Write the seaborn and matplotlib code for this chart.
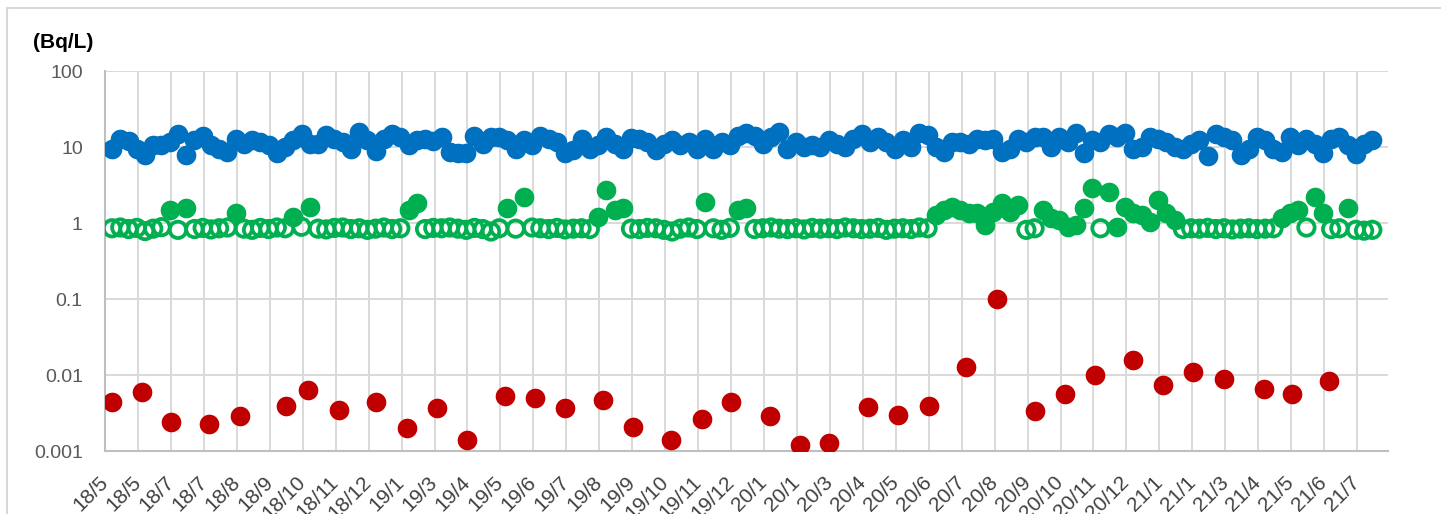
import numpy as np
import pandas as pd
import seaborn as sns
import matplotlib.pyplot as plt
from matplotlib.patches import Rectangle

# weekly samples (x = week number from first sample)
blue_vals = [
    9.6, 13.0, 12.0, 9.6, 7.9, 10.6, 10.8, 11.8, 15.1, 8.0,
    12.4, 14.0, 10.6, 9.6, 8.7, 13.0, 11.2, 12.4, 11.8, 10.6,
    8.3, 10.1, 12.4, 15.0, 11.2, 11.2, 14.4, 13.0, 11.8, 9.6,
    15.9, 12.4, 9.0, 13.0, 15.1, 13.7, 10.6, 12.4, 13.0, 12.0,
    13.7, 8.7, 8.5, 8.5, 14.2, 11.2, 13.5, 13.5, 12.4, 9.6,
    12.4, 10.6, 14.2, 13.0, 11.8, 8.3, 9.1, 13.0, 9.6, 10.6,
    13.5, 11.2, 9.6, 13.2, 13.0, 11.8, 9.1, 11.2, 12.4, 10.6,
    11.8, 9.6, 13.0, 9.6, 11.8, 10.6, 14.0, 15.3, 14.2, 11.2,
    13.5, 16.0, 9.6, 11.8, 10.1, 10.6, 10.1, 12.4, 11.2, 10.1,
    13.0, 15.0, 11.8, 13.7, 11.8, 9.6, 12.4, 10.1, 15.5, 14.4,
    10.1, 8.7, 11.8, 11.8, 11.2, 13.0, 12.4, 13.0, 8.7, 9.6,
    13.0, 11.8, 13.7, 13.7, 10.1, 13.5, 11.8, 15.5, 8.3, 12.4,
    11.8, 14.8, 13.7, 15.2, 9.6, 10.1, 13.7, 13.0, 11.8, 10.1,
    9.6, 11.2, 12.4, 7.6, 15.0, 13.7, 12.4, 7.9, 9.6, 13.5,
    12.4, 9.6, 8.7, 13.5, 10.6, 13.0, 11.2, 8.3, 13.0, 13.7,
    10.6, 8.2, 11.2, 12.4,
]

green_vals = [
    0.86, 0.88, 0.84, 0.87, 0.79, 0.85, 0.89, 1.48, 0.82, 1.57,
    0.84, 0.87, 0.83, 0.86, 0.88, 1.35, 0.85, 0.82, 0.87, 0.84,
    0.88, 0.86, 1.20, 0.90, 1.62, 0.85, 0.83, 0.87, 0.88, 0.84,
    0.86, 0.82, 0.85, 0.88, 0.84, 0.86, 1.48, 1.83, 0.84, 0.87,
    0.86, 0.88, 0.85, 0.82, 0.87, 0.84, 0.78, 0.86, 1.57, 0.85,
    2.20, 0.88, 0.86, 0.84, 0.87, 0.83, 0.85, 0.86, 0.84, 1.20,
    2.72, 1.48, 1.57, 0.85, 0.84, 0.87, 0.86, 0.82, 0.78, 0.85,
    0.88, 0.84, 1.89, 0.86, 0.82, 0.87, 1.48, 1.57, 0.84, 0.86,
    0.88, 0.85, 0.84, 0.86, 0.83, 0.87, 0.85, 0.86, 0.84, 0.88,
    0.86, 0.84, 0.85, 0.87, 0.82, 0.85, 0.86, 0.84, 0.88, 0.86,
    1.27, 1.48, 1.62, 1.48, 1.35, 1.35, 0.94, 1.40, 1.83, 1.40,
    1.72, 0.82, 0.86, 1.48, 1.16, 1.10, 0.89, 0.94, 1.57, 2.90,
    0.86, 2.56, 0.89, 1.62, 1.35, 1.27, 1.03, 2.00, 1.35, 1.10,
    0.84, 0.86, 0.85, 0.87, 0.84, 0.86, 0.83, 0.85, 0.86, 0.84,
    0.85, 0.86, 1.16, 1.35, 1.48, 0.88, 2.20, 1.35, 0.84, 0.86,
    1.57, 0.82, 0.80, 0.82,
]
# 1 = below detection limit (hollow marker), 0 = detected
green_nd = [
    1, 1, 1, 1, 1, 1, 1, 0, 1, 0,
    1, 1, 1, 1, 1, 0, 1, 1, 1, 1,
    1, 1, 0, 1, 0, 1, 1, 1, 1, 1,
    1, 1, 1, 1, 1, 1, 0, 0, 1, 1,
    1, 1, 1, 1, 1, 1, 1, 1, 0, 1,
    0, 1, 1, 1, 1, 1, 1, 1, 1, 0,
    0, 0, 0, 1, 1, 1, 1, 1, 1, 1,
    1, 1, 0, 1, 1, 1, 0, 0, 1, 1,
    1, 1, 1, 1, 1, 1, 1, 1, 1, 1,
    1, 1, 1, 1, 1, 1, 1, 1, 1, 1,
    0, 0, 0, 0, 0, 0, 0, 0, 0, 0,
    0, 1, 1, 0, 0, 0, 0, 0, 0, 0,
    1, 0, 0, 0, 0, 0, 0, 0, 0, 0,
    1, 1, 1, 1, 1, 1, 1, 1, 1, 1,
    1, 1, 0, 0, 0, 1, 0, 0, 1, 1,
    0, 1, 1, 1,
]

red_weeks = [0, 3.6, 7.2, 11.8, 15.5, 21.1, 23.8, 27.5, 32, 35.8,
             39.4, 43.1, 47.7, 51.3, 55, 59.6, 63.3, 67.9, 71.6, 75.2,
             79.9, 83.5, 87.1, 91.8, 95.4, 99.2, 103.7, 107.4, 112, 115.7,
             119.3, 123.9, 127.6, 131.2, 135, 139.8, 143.2, 147.8]
red_vals = [0.0045, 0.0060, 0.0024, 0.0023, 0.0029, 0.0040, 0.0064, 0.0035, 0.0044, 0.0020,
            0.0037, 0.0014, 0.0053, 0.0051, 0.0037, 0.0047, 0.0021, 0.0014, 0.0027, 0.0044,
            0.0029, 0.0012, 0.0013, 0.0038, 0.0030, 0.0040, 0.013, 0.10, 0.0034, 0.0057,
            0.010, 0.016, 0.0075, 0.011, 0.0090, 0.0067, 0.0056, 0.0084]

x_labels = ['18/5', '18/5', '18/7', '18/7', '18/8', '18/9', '18/10', '18/11', '18/12',
            '19/1', '19/3', '19/4', '19/5', '19/6', '19/7', '19/8', '19/9', '19/10',
            '19/11', '19/12', '20/1', '20/1', '20/3', '20/4', '20/5', '20/6', '20/7',
            '20/8', '20/9', '20/10', '20/11', '20/12', '21/1', '21/1', '21/3', '21/4',
            '21/5', '21/6', '21/7']
y_ticks = [0.001, 0.01, 0.1, 1, 10, 100]
y_labels = ['0.001', '0.01', '0.1', '1', '10', '100']

BLUE = '#0070C0'
GREEN = '#00B050'
RED = '#C00000'

sns.set_style('white')
plt.rcParams['font.family'] = ['Liberation Sans', 'DejaVu Sans']

df_blue = pd.DataFrame({'week': np.arange(len(blue_vals)), 'val': blue_vals})
df_green = pd.DataFrame({'week': np.arange(len(green_vals)), 'val': green_vals, 'nd': green_nd})
df_red = pd.DataFrame({'week': red_weeks, 'val': red_vals})

fig = plt.figure(figsize=(14.41, 5.14), dpi=100)
ax = fig.add_axes([0.0729, 0.122, 0.8903, 0.7393])

sns.scatterplot(data=df_blue, x='week', y='val', color=BLUE, s=200, linewidth=0, ax=ax, legend=False, zorder=3)
sns.scatterplot(data=df_green[df_green.nd == 1], x='week', y='val', facecolors='none', edgecolor=GREEN,
                linewidth=2.7, s=140, ax=ax, legend=False, zorder=3)
sns.scatterplot(data=df_green[df_green.nd == 0], x='week', y='val', color=GREEN, s=200, linewidth=0,
                ax=ax, legend=False, zorder=3)
sns.scatterplot(data=df_red, x='week', y='val', color=RED, s=200, linewidth=0, ax=ax, legend=False, zorder=3)

ax.set_yscale('log')
ax.set_ylim(0.001, 100)
ax.set_yticks(y_ticks)
ax.set_yticklabels(y_labels)
ax.minorticks_off()

tick_pos = -0.85 + 4 * np.arange(len(x_labels))
ax.set_xlim(-0.85, 154.9)
ax.set_xticks(tick_pos)
ax.set_xticklabels(x_labels, rotation=45, ha='right', va='center', rotation_mode='anchor')

ax.set_xlabel('')
ax.set_ylabel('')
ax.grid(True, color='#d9d9d9', linewidth=1.4, zorder=0)
ax.set_axisbelow(True)
for side in ['top', 'right']:
    ax.spines[side].set_visible(False)
for side in ['left', 'bottom']:
    ax.spines[side].set_color('#bfbfbf')
    ax.spines[side].set_linewidth(1.5)

ax.tick_params(axis='y', length=0, pad=16, labelsize=14, labelcolor='#595959')
ax.tick_params(axis='x', length=0, pad=20, labelsize=15, labelcolor='#404040')

fig.text(33 / 1441, 1 - 43 / 514, '(Bq/L)', fontsize=15, fontweight='bold', ha='left', va='center',
         color='black')

fig.patches.append(Rectangle((7 / 1441, -0.1), 1.2, 1.1 - 8.5 / 514, transform=fig.transFigure,
                             fill=False, edgecolor='#d9d9d9', linewidth=1.5))

fig.savefig('out.png', dpi=100)
